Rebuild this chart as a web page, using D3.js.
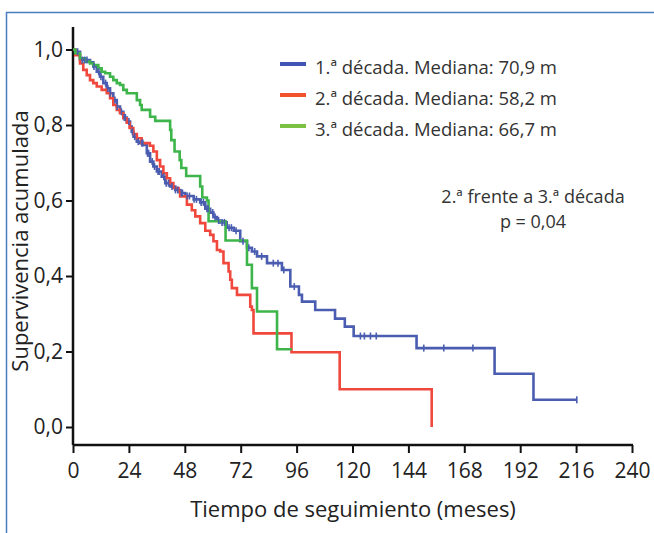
<!DOCTYPE html>
<html><head><meta charset="utf-8">
<script src="https://cdn.jsdelivr.net/npm/d3@7"></script>
<style>body{margin:0;background:#fff}svg{display:block}</style>
</head><body>
<svg id="chart" width="654" height="533"></svg>
<script>
const xTicks = [0,24,48,72,96,120,144,168,192,216,240];
const yTicks = [0,0.2,0.4,0.6,0.8,1.0];
const seriesNames = ["1.ª década. Mediana: 70,9 m","2.ª década. Mediana: 58,2 m","3.ª década. Mediana: 66,7 m"];
const blueSteps = [[0,1],[0.9,0.994],[3,0.972],[7.3,0.966],[8.7,0.955],[10.2,0.941],[11.6,0.928],[13,0.911],[14.5,0.897],[15.9,0.884],[17.3,0.866],[18.8,0.849],[20.2,0.835],[21.6,0.82],[23.1,0.809],[24.5,0.796],[25.2,0.782],[26,0.769],[27.4,0.756],[28.8,0.752],[30.2,0.747],[31.7,0.725],[33.1,0.703],[34.5,0.69],[36,0.677],[38.1,0.663],[39.6,0.646],[41.7,0.637],[43.9,0.628],[46,0.62],[48.2,0.612],[51.8,0.603],[54.6,0.595],[56.8,0.578],[58.9,0.568],[60.3,0.556],[61.8,0.547],[63.2,0.542],[66,0.528],[69,0.52],[71.8,0.492],[74.7,0.475],[76.8,0.465],[79,0.452],[83.3,0.434],[89.7,0.416],[93.3,0.372],[97,0.35],[98.3,0.332],[104,0.31],[112.5,0.287],[116.7,0.266],[120.5,0.241],[147.5,0.209],[181,0.141],[197.7,0.072],[216.3,0.072]];
const redSteps = [[0,1],[1,0.985],[3,0.963],[4.4,0.946],[5.9,0.932],[7.3,0.919],[8.7,0.911],[10.2,0.902],[12.3,0.893],[14.5,0.884],[15.9,0.871],[17.3,0.853],[18.8,0.84],[20.2,0.831],[21.6,0.818],[23.1,0.806],[24.3,0.792],[25.9,0.776],[27.4,0.765],[29.5,0.752],[33,0.745],[34.5,0.73],[36,0.707],[37.4,0.69],[38.8,0.672],[40.3,0.659],[41.7,0.646],[43.1,0.633],[45.3,0.624],[46,0.611],[48.9,0.589],[51,0.574],[52.5,0.558],[54.6,0.54],[56.8,0.52],[58.9,0.509],[60.3,0.492],[61.8,0.469],[63.2,0.465],[64.6,0.434],[66.8,0.412],[67.5,0.39],[68.2,0.368],[70.4,0.35],[76.1,0.319],[76.8,0.31],[77.5,0.248],[93.8,0.198],[114.5,0.1],[154,0]];
const greenSteps = [[0,1],[1,0.99],[3,0.977],[5.2,0.968],[7.3,0.963],[8.7,0.959],[10.9,0.95],[12.3,0.941],[13.8,0.937],[15.9,0.928],[17.3,0.919],[18.8,0.911],[20.2,0.906],[21.6,0.893],[23.1,0.884],[27.4,0.866],[28.8,0.853],[29.5,0.84],[33.1,0.822],[35.3,0.811],[41.7,0.787],[42.2,0.76],[43.6,0.73],[45.8,0.707],[46.5,0.686],[48.6,0.665],[54.6,0.637],[55.5,0.608],[57.5,0.6],[58.2,0.545],[65.5,0.494],[74.7,0.43],[76.8,0.368],[79,0.306],[87.6,0.206],[94,0.206]];
const blueCensored = [2,4,5,6,9,11,12,14,15,16,18,19,20.8,22,22.5,24,25.5,26.5,28,29.5,30,32,32.5,34,35,36.5,37,39,40,41,42.5,44,45,46.5,47,49,50,52,53,55,56,57.5,58,60,61,62.5,64,65,67,68,70,73,75.5,78,81,86,88,90.5,95,123.4,125.1,127.7,130.2,150.6,159.2,171.7,216.3];

const colors = ["#4a5db0","#f0483c","#3db54a"];
const legendColors = ["#3f55b5","#f2532d","#7dc143"];

const svg = d3.select("#chart");
const x = d3.scaleLinear().domain([0,240]).range([73,632]);
const y = d3.scaleLinear().domain([0,1]).range([427,49.5]);
const font = "'Open Sans', sans-serif";

// frame
svg.append("rect").attr("x",6.5).attr("y",12.5).attr("width",720).attr("height",600)
  .attr("fill","none").attr("stroke","#4a7cc0").attr("stroke-width",1.5);

// axes
const axisY = 445;
const gx = svg.append("g").attr("transform",`translate(0,${axisY})`)
  .call(d3.axisBottom(x).tickValues(xTicks).tickSize(8).tickPadding(10).tickSizeOuter(0));
const gy = svg.append("g").attr("transform",`translate(73,0)`)
  .call(d3.axisLeft(y).tickValues(yTicks).tickSize(7).tickPadding(3).tickSizeOuter(0)
    .tickFormat(d=>d3.format(".1f")(d).replace(".",",")));
gy.select(".domain").attr("d",`M0,27V${axisY}`);
gx.select(".domain").attr("d",`M73,0H${x(240)+1}`);
[gx,gy].forEach(g=>{
  g.selectAll(".domain").attr("stroke","#111").attr("stroke-width",2.5);
  g.selectAll(".tick line").attr("stroke","#111").attr("stroke-width",2);
  g.selectAll(".tick text").attr("font-family",font).attr("font-size",21).attr("fill","#222");
});

// curves
const line = d3.line().x(d=>x(d[0])).y(d=>y(d[1])).curve(d3.curveStepAfter);
const all = [blueSteps,redSteps,greenSteps];
all.forEach((s,i)=>{
  svg.append("path").datum(s).attr("d",line).attr("fill","none")
    .attr("stroke",colors[i]).attr("stroke-width",2.6).attr("stroke-linejoin","miter");
});
// censor marks (blue)
const bis = d3.bisector(d=>d[0]).right;
svg.append("g").selectAll("line").data(blueCensored).join("line")
  .attr("x1",d=>x(d)).attr("x2",d=>x(d))
  .attr("y1",d=>y(blueSteps[Math.max(0,bis(blueSteps,d)-1)][1])-3.5)
  .attr("y2",d=>y(blueSteps[Math.max(0,bis(blueSteps,d)-1)][1])+3.5)
  .attr("stroke",colors[0]).attr("stroke-width",1.6);

// legend
const lg = svg.append("g");
seriesNames.forEach((n,i)=>{
  const ly = 64 + i*31;
  lg.append("line").attr("x1",280).attr("x2",306).attr("y1",ly).attr("y2",ly)
    .attr("stroke",legendColors[i]).attr("stroke-width",4);
  lg.append("text").attr("x",315).attr("y",ly+10).attr("font-family",font)
    .attr("font-size",18.5).attr("fill","#333").text(n);
});

// annotation
svg.append("text").attr("x",533).attr("y",203).attr("text-anchor","middle")
  .attr("font-family",font).attr("font-size",18).attr("fill","#333").text("2.ª frente a 3.ª década");
svg.append("text").attr("x",533).attr("y",228).attr("text-anchor","middle")
  .attr("font-family",font).attr("font-size",18).attr("fill","#333").text("p = 0,04");

// axis titles
svg.append("text").attr("x",353).attr("y",517).attr("text-anchor","middle")
  .attr("font-family",font).attr("font-size",22).attr("fill","#222").text("Tiempo de seguimiento (meses)");
svg.append("text").attr("transform","translate(28,241) rotate(-90)").attr("text-anchor","middle")
  .attr("font-family",font).attr("font-size",22).attr("fill","#222").text("Supervivencia acumulada");
</script>
</body></html>
